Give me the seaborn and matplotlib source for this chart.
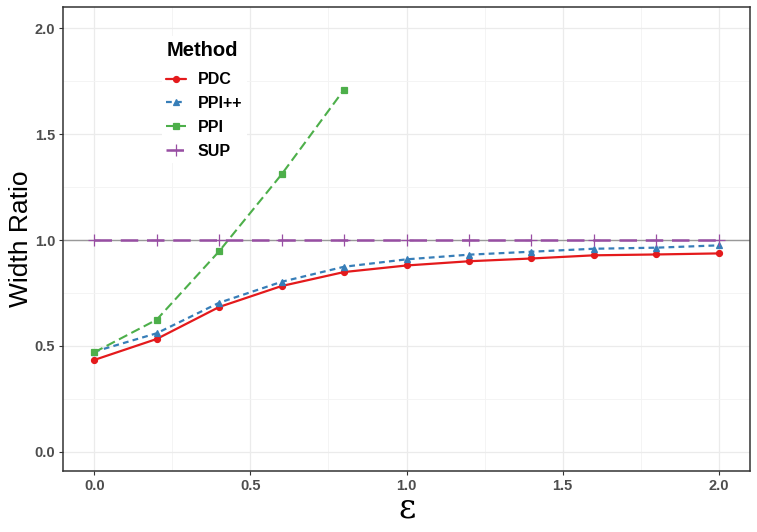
"""
plot.py
    Width ratio of confidence intervals against epsilon for several methods
"""

import pandas as pd
import matplotlib
matplotlib.use('Agg')
import matplotlib.pyplot as plt
from matplotlib.ticker import MultipleLocator, FormatStrFormatter
import seaborn as sns

# Data
eps = [0.0, 0.2, 0.4, 0.6, 0.8, 1.0, 1.2, 1.4, 1.6, 1.8, 2.0]
pdc = [0.434, 0.533, 0.684, 0.783, 0.849, 0.880, 0.900, 0.913, 0.928, 0.932, 0.937]
ppi_pp = [0.473, 0.560, 0.704, 0.803, 0.874, 0.909, 0.931, 0.945, 0.959, 0.964, 0.975]
ppi_eps = [0.0, 0.2, 0.4, 0.6, 0.8]
ppi = [0.470, 0.624, 0.947, 1.310, 1.710]
sup = [1.0] * len(eps)
methods = ['PDC', 'PPI++', 'PPI', 'SUP']

palette = {'PDC': '#E41A1C', 'PPI++': '#377EB8', 'PPI': '#4DAF4A', 'SUP': '#984EA3'}
markers = {'PDC': 'o', 'PPI++': '^', 'PPI': 's', 'SUP': '+'}
linestyles = {'PDC': '-', 'PPI++': (0, (2.6, 1.9)), 'PPI': (0, (4.5, 2.2)), 'SUP': (0, (7, 3.5))}
msizes = {'PDC': 4.3, 'PPI++': 4.8, 'PPI': 4.2, 'SUP': 8}
lwidths = {'PDC': 1.6, 'PPI++': 1.6, 'PPI': 1.5, 'SUP': 1.8}

df = pd.concat([
    pd.DataFrame({'eps': eps, 'ratio': pdc, 'Method': 'PDC'}),
    pd.DataFrame({'eps': eps, 'ratio': ppi_pp, 'Method': 'PPI++'}),
    pd.DataFrame({'eps': ppi_eps, 'ratio': ppi, 'Method': 'PPI'}),
    pd.DataFrame({'eps': eps, 'ratio': sup, 'Method': 'SUP'}),
], ignore_index=True)

sns.set_style('white')
plt.rcParams['font.family'] = ['Liberation Sans', 'DejaVu Sans']
plt.rcParams['text.color'] = 'black'
plt.rcParams['axes.labelcolor'] = 'black'

fig = plt.figure(figsize=(7.57, 5.32), dpi=100)
ax = fig.add_axes([0.0832, 0.1147, 0.9076, 0.8721])

ax.axhline(1.0, color='#999999', lw=1.0, zorder=1)
for m in methods:
    sub = df[df['Method'] == m]
    sns.lineplot(data=sub, x='eps', y='ratio', color=palette[m], marker=markers[m],
                 linestyle=linestyles[m], lw=lwidths[m], markersize=msizes[m],
                 markeredgewidth=0.9, markeredgecolor=palette[m], label=m,
                 ax=ax, zorder=3)

ax.set_xlim(-0.1, 2.1)
ax.set_ylim(-0.09, 2.1)
ax.xaxis.set_major_locator(MultipleLocator(0.5))
ax.xaxis.set_minor_locator(MultipleLocator(0.25))
ax.yaxis.set_major_locator(MultipleLocator(0.5))
ax.yaxis.set_minor_locator(MultipleLocator(0.25))
ax.xaxis.set_major_formatter(FormatStrFormatter('%.1f'))
ax.yaxis.set_major_formatter(FormatStrFormatter('%.1f'))
ax.grid(which='major', color='#EBEBEB', lw=0.9, zorder=0)
ax.grid(which='minor', color='#F3F3F3', lw=0.6, zorder=0)
ax.set_axisbelow(True)
for s in ax.spines.values():
    s.set_color('#333333')
    s.set_linewidth(1.1)
ax.tick_params(which='major', length=3, width=0.8, color='#333333', pad=2.5,
               labelsize=10.5, labelcolor='#4D4D4D', left=True, bottom=True)
ax.tick_params(which='minor', length=0)
for lab in ax.get_xticklabels() + ax.get_yticklabels():
    lab.set_fontweight('bold')

ax.set_ylabel('Width Ratio', fontsize=19, labelpad=1)
ax.set_xlabel('ε', fontsize=24, family='DejaVu Serif', labelpad=0)

leg = ax.legend(title='Method', loc='upper left', bbox_to_anchor=(0.132, 0.955),
                frameon=True, facecolor='white', edgecolor='none', framealpha=1,
                prop={'weight': 'bold', 'size': 11.5}, handlelength=1.25,
                handletextpad=0.7, labelspacing=0.55, borderpad=0.3)
leg.get_title().set_fontweight('bold')
leg.get_title().set_fontsize(14.5)
leg.get_title().set_color('black')
for t in leg.get_texts():
    t.set_color('black')
leg._legend_box.align = 'left'
leg._legend_box.sep = 9

fig.savefig('out.png', dpi=100)
